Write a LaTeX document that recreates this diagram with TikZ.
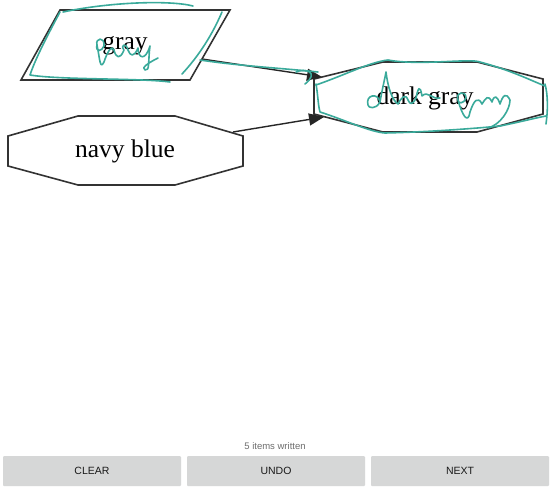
\documentclass[tikz,border=0pt]{standalone}
\usepackage{fontspec}
\setmainfont{Liberation Serif}
\newfontfamily\uifont{Liberation Sans}
\usetikzlibrary{arrows.meta}
\definecolor{ink}{RGB}{58,170,155}
\definecolor{btn}{RGB}{214,215,215}
\definecolor{uitext}{RGB}{110,110,110}
\tikzset{
  shapeline/.style={draw=black!80, line width=1.6pt, fill=white, line join=miter},
  label/.style={font=\fontsize{25.5}{26}\selectfont, text=black, inner sep=0pt},
  edge/.style={draw=black!85, line width=1.4pt, -{Triangle[length=15pt,width=12pt]}},
  scribble/.style={draw=ink, line width=1.6pt, line cap=round, line join=round},
  button/.style={fill=btn, draw=none, rounded corners=1pt, minimum width=178pt, minimum height=30pt, inner sep=0pt, font=\uifont\fontsize{10.5}{11}\selectfont, text=black!90},
}
\begin{document}
\begin{tikzpicture}[x=1pt,y=-1pt]
\useasboundingbox (0,0) rectangle (550,490);
\fill[white] (0,0) rectangle (550,490);

% gray parallelogram
\draw[shapeline] (60,10) -- (230,10) -- (190,80) -- (21,80) -- cycle;
\node[label] (gray) at (125,46) {gray};
\coordinate (grayout) at (202,59);

% navy blue octagon
\draw[shapeline] (78,116) -- (175,116) -- (243,136) -- (243,166) -- (175,185) -- (78,185) -- (8,166) -- (8,136) -- cycle;
\node[label] (navy) at (125,151) {navy blue};
\coordinate (navyout) at (233,132);

% dark gray octagon
\draw[shapeline] (383,62) -- (477,62) -- (543,79) -- (543,114) -- (477,132) -- (383,132) -- (314,114) -- (314,79) -- cycle;
\node[label] (dgray) at (425,98) {dark gray};
\coordinate (dgin1) at (322,77);
\coordinate (dgin2) at (324,117);

\draw[edge] (grayout) -- (dgin1);
\draw[edge] (navyout) -- (dgin2);

% handwriting strokes
\draw[scribble] (63,12) .. controls (110,2) and (170,0) .. (193,6);
\draw[scribble] (60,12) .. controls (45,40) and (35,60) .. (30,75) .. controls (60,80) and (140,78) .. (170,82);
\draw[scribble] (222,12) .. controls (210,40) and (195,60) .. (182,74);
\draw[scribble] (97,45) .. controls (95,38) and (105,36) .. (104,46) .. controls (102,52) and (95,52) .. (97,45) .. controls (100,60) and (100,70) .. (104,62) .. controls (108,50) and (112,45) .. (114,50) .. controls (116,58) and (120,60) .. (124,50) .. controls (120,45) and (126,42) .. (128,50) .. controls (130,56) and (134,58) .. (138,48) .. controls (138,58) and (145,62) .. (150,46) .. controls (148,60) and (150,72) .. (145,70) .. controls (140,68) and (150,62) .. (158,58);
\draw[scribble] (200,60) .. controls (240,66) and (280,68) .. (318,72);
\draw[scribble] (296,72) .. controls (305,68) and (320,72) .. (305,84);
\draw[scribble] (316,85) .. controls (345,75) and (370,62) .. (388,60) .. controls (420,66) and (470,58) .. (480,62) .. controls (510,70) and (530,80) .. (545,86);
\draw[scribble] (316,84) .. controls (318,95) and (318,105) .. (320,112) .. controls (345,120) and (370,132) .. (385,133) .. controls (430,132) and (480,128) .. (500,126) .. controls (520,122) and (535,118) .. (546,116);
\draw[scribble] (545,84) .. controls (548,95) and (548,110) .. (546,124);
\draw[scribble] (368,105) .. controls (365,95) and (378,92) .. (380,102) .. controls (376,110) and (368,108) .. (368,105);
\draw[scribble] (380,102) .. controls (382,90) and (385,78) .. (386,72) .. controls (388,88) and (392,100) .. (398,104) .. controls (402,96) and (406,94) .. (408,100) .. controls (410,104) and (412,106) .. (416,98) .. controls (418,88) and (420,84) .. (422,96) .. controls (428,90) and (432,100) .. (440,98);
\draw[scribble] (458,100) .. controls (455,92) and (466,90) .. (466,98) .. controls (464,104) and (458,104) .. (458,100) .. controls (462,115) and (468,125) .. (470,112) .. controls (474,100) and (478,96) .. (482,104) .. controls (486,98) and (488,94) .. (492,102) .. controls (494,95) and (497,95) .. (500,104) .. controls (503,95) and (506,92) .. (510,100) .. controls (510,110) and (500,125) .. (488,128);

% bottom bar
\node[font=\uifont\fontsize{9.5}{10}\selectfont, text=uitext] (status) at (275,446) {5 items written};
\node[button] (clear) at (92,471) {CLEAR};
\node[button] (undo) at (276,471) {UNDO};
\node[button] (next) at (460,471) {NEXT};
\end{tikzpicture}
\end{document}
